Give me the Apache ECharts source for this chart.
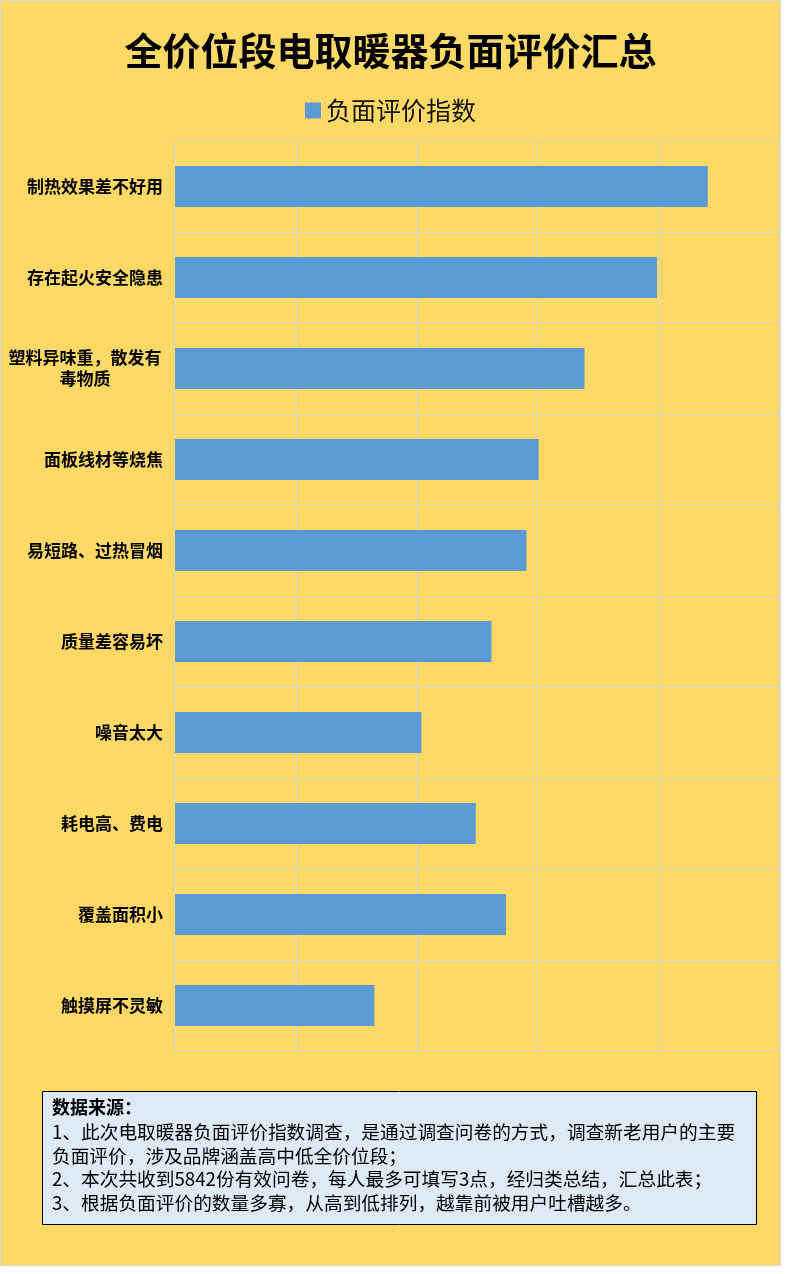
<!DOCTYPE html>
<html>
<head>
<meta charset="utf-8">
<script src="https://cdn.jsdelivr.net/npm/echarts@6/dist/echarts.min.js"></script>
<style>
    html, body { margin: 0; padding: 0; background: #fff; }
    #main { width: 779px; height: 1264px; border: 1px solid #d9d9d9; background: #FFD966; }
</style>
</head>
<body>
<div id="main"></div>
<script>
    // 负面评价项（自上而下）
    var categories = ['制热效果差不好用', '存在起火安全隐患', '塑料异味重，散发有\n毒物质', '面板线材等烧焦',
        '易短路、过热冒烟', '质量差容易坏', '噪音太大', '耗电高、费电', '覆盖面积小', '触摸屏不灵敏'];
    var values = [44.1, 39.9, 33.9, 30.1, 29.1, 26.2, 20.4, 24.9, 27.4, 16.5];
    var seriesName = '负面评价指数';
    var noteTitle = '数据来源：';
    var noteLines = [
        '1、此次电取暖器负面评价指数调查，是通过调查问卷的方式，调查新老用户的主要',
        '负面评价，涉及品牌涵盖高中低全价位段；',
        '2、本次共收到5842份有效问卷，每人最多可填写3点，经归类总结，汇总此表；',
        '3、根据负面评价的数量多寡，从高到低排列，越靠前被用户吐槽越多。'
    ];

    var font = '"Noto Sans CJK SC", "Noto Sans", sans-serif';
    var myChart = echarts.init(document.getElementById('main'));
    var option = {
        backgroundColor: 'transparent',
        textStyle: {fontFamily: font},
        title: {
            text: '全价位段电取暖器负面评价汇总',
            left: 'center',
            top: 26,
            textStyle: {fontSize: 38, fontWeight: 'bold', color: '#000', fontFamily: font}
        },
        legend: {
            data: [seriesName],
            top: 92,
            left: 'center',
            icon: 'rect',
            itemWidth: 16,
            itemHeight: 16,
            itemGap: 8,
            textStyle: {fontSize: 25, color: '#111', fontFamily: font}
        },
        grid: {
            left: 174,
            top: 140,
            width: 604,
            height: 910,
            containLabel: false
        },
        xAxis: {
            type: 'value',
            min: 0,
            max: 50,
            interval: 10,
            axisLabel: {show: false},
            axisLine: {show: false},
            axisTick: {show: false},
            splitLine: {showMinLine: true, showMaxLine: true, lineStyle: {color: '#d9d9d9', width: 1}}
        },
        yAxis: {
            type: 'category',
            inverse: true,
            data: categories,
            axisLine: {show: false},
            axisTick: {show: false},
            splitLine: {show: true, lineStyle: {color: '#d9d9d9', width: 1}},
            axisLabel: {
                margin: 12,
                color: '#000',
                fontSize: 17,
                fontWeight: 'bold',
                fontFamily: font,
                lineHeight: 21,
                formatter: function (v) {
                    if (v.indexOf('\n') >= 0) {
                        return v.split('\n').map(function (s) {
                            return '{c|' + s + '}';
                        }).join('\n');
                    }
                    return v;
                },
                rich: {
                    c: {
                        width: 156,
                        align: 'center',
                        fontSize: 17,
                        fontWeight: 'bold',
                        lineHeight: 21,
                        color: '#000',
                        fontFamily: font
                    }
                }
            }
        },
        series: [{
            name: seriesName,
            type: 'bar',
            data: values,
            barWidth: 41,
            itemStyle: {color: '#5B9BD5'}
        }],
        graphic: [{
            type: 'rect',
            shape: {x: 41.5, y: 1090.5, width: 714, height: 133},
            style: {fill: '#DEEBF7', stroke: '#000', lineWidth: 1},
            z: 10
        }, {
            type: 'text',
            x: 51,
            y: 1106.5,
            style: {
                text: noteTitle,
                font: 'bold 18px ' + font,
                fill: '#000',
                verticalAlign: 'middle'
            },
            z: 11
        }, {
            type: 'text',
            x: 51,
            y: 1119.5,
            style: {
                text: noteLines.join('\n'),
                font: '18.7px ' + font,
                lineHeight: 23.5,
                fill: '#000',
                verticalAlign: 'top'
            },
            z: 11
        }]
    };
    myChart.setOption(option);
</script>
</body>
</html>
